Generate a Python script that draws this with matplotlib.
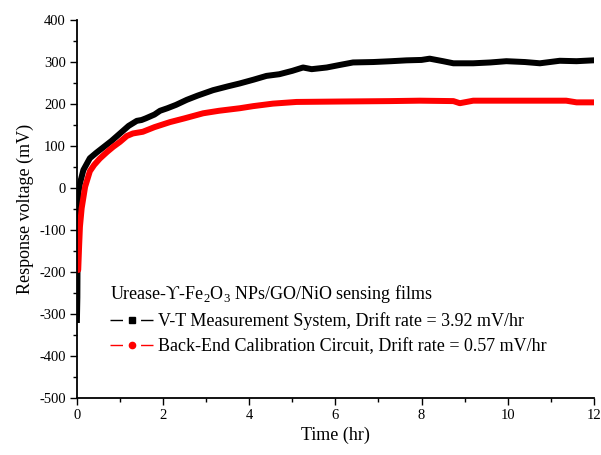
import matplotlib
matplotlib.use("Agg")
import matplotlib.pyplot as plt
from matplotlib.lines import Line2D
from matplotlib.ticker import MultipleLocator

plt.rcParams['font.family'] = ['Liberation Serif', 'DejaVu Serif']
plt.rcParams['mathtext.fontset'] = 'custom'
plt.rcParams['mathtext.rm'] = 'Liberation Serif'
plt.rcParams['axes.unicode_minus'] = False

# V-T measurement system (black)
t_vt = [0.0, 0.01, 0.02, 0.03, 0.07, 0.15, 0.3, 0.45, 0.6, 0.8, 1.0, 1.2, 1.39,
        1.5, 1.6, 1.8, 1.93, 2.1, 2.3, 2.55, 2.8, 3.16, 3.5, 3.78, 4.1, 4.4,
        4.7, 5.0, 5.25, 5.45, 5.8, 6.1, 6.41, 6.88, 7.3, 7.65, 8.0, 8.19,
        8.5, 8.74, 9.2, 9.6, 9.97, 10.4, 10.75, 11.21, 11.6, 11.98]
v_vt = [-314, -260, -60, -13, 11, 43, 71, 84, 96, 112, 130, 148, 160,
        162, 166, 175, 184, 190, 198, 210, 220, 233, 242, 249, 258, 267,
        271, 279, 287, 283, 287, 293, 299, 300, 302, 304, 305, 308,
        302, 297, 297, 299, 302, 300, 297, 303, 302, 304]

# Back-end calibration circuit (red)
t_be = [0.0, 0.03, 0.05, 0.07, 0.11, 0.19, 0.3, 0.4, 0.53, 0.7, 0.84, 1.0,
        1.16, 1.3, 1.53, 1.8, 2.16, 2.5, 2.93, 3.3, 3.78, 4.09, 4.55, 5.1,
        6.1, 7.26, 7.96, 8.74, 8.89, 9.2, 10.0, 10.75, 11.36, 11.6, 11.98]
v_be = [-195, -195, -140, -92, -48, 3, 40, 55, 70, 86, 98, 110,
        124, 130, 134, 145, 157, 166, 178, 184, 190, 195, 201, 205,
        206, 207, 208, 207, 202, 208, 208, 208, 208, 204, 204]

title = 'Urease-\u03d2-Fe$_2$O$_3$ NPs/GO/NiO sensing films'
label_vt = 'V-T Measurement System, Drift rate = 3.92 mV/hr'
label_be = 'Back-End Calibration Circuit, Drift rate = 0.57 mV/hr'

fig = plt.figure(figsize=(6.01, 4.55), dpi=100)
ax = fig.add_axes([0.128, 0.125, 0.86, 0.831])

ax.plot(t_vt, v_vt, color='black', lw=4.3, solid_joinstyle='round')
ax.plot(t_be, v_be, color='red', lw=4.3, solid_joinstyle='round')

ax.set_xlim(0, 12)
ax.set_ylim(-500, 400)
ax.xaxis.set_major_locator(MultipleLocator(2))
ax.xaxis.set_minor_locator(MultipleLocator(1))
ax.yaxis.set_major_locator(MultipleLocator(100))
ax.yaxis.set_minor_locator(MultipleLocator(50))
ax.tick_params(which='major', direction='out', length=5, width=1, labelsize=10.5, pad=3)
ax.tick_params(which='minor', direction='out', length=3, width=1)
ax.spines['top'].set_visible(False)
ax.spines['right'].set_visible(False)
ax.spines['left'].set_linewidth(1.3)
ax.spines['bottom'].set_linewidth(1.3)

ax.set_xlabel('Time (hr)', fontsize=13, labelpad=3)
ax.set_ylabel('Response voltage (mV)', fontsize=13, labelpad=4)

handles = [
    Line2D([], [], color='black', lw=1, dashes=[9, 13], marker='s', ms=4),
    Line2D([], [], color='red', lw=1, dashes=[9, 13], marker='o', ms=4.5),
]
leg = ax.legend(handles, [label_vt, label_be], title=title, loc='upper left',
                bbox_to_anchor=(0.064, 0.305), frameon=False, fontsize=13,
                title_fontsize=13, numpoints=1, handlelength=2.4,
                handletextpad=0.25, borderpad=0, borderaxespad=0,
                labelspacing=0.42, alignment='left')

fig.savefig('out.png', dpi=100)
